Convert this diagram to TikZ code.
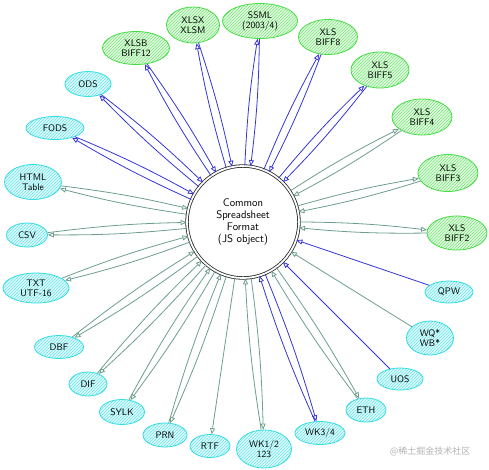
\documentclass[tikz,border=0pt]{standalone}
\usepackage{fontspec}
\newfontfamily\cjkfont{Noto Sans CJK SC}
\usetikzlibrary{shapes.geometric,patterns,arrows.meta}
\definecolor{xlgreen}{HTML}{44DD44}
\definecolor{oldcyan}{HTML}{33DDE6}
\definecolor{wbblue}{HTML}{3535D8}
\definecolor{wsgreen}{HTML}{6C9E8C}
\tikzset{
  fmt/.style={ellipse,draw,thick,inner sep=0pt,align=center,
    font=\sffamily\fontsize{9.5}{10}\selectfont},
  sz/.style 2 args={minimum width=#1pt,minimum height=#2pt},
  xl/.style={fmt,draw=xlgreen,preaction={fill=xlgreen!14},
    pattern=north east lines,pattern color=xlgreen!75},
  old/.style={fmt,draw=oldcyan,preaction={fill=oldcyan!14},
    pattern=north east lines,pattern color=oldcyan!75},
  hub/.style={circle,draw=black!85,double,double distance=1.8pt,thick,
    minimum size=112pt,inner sep=0pt,align=center,
    font=\sffamily\fontsize{11}{12}\selectfont},
  wbedge/.style={-{Triangle[open,length=6pt,width=5pt]},wbblue,line width=0.8pt},
  wsedge/.style={-{Triangle[open,length=6pt,width=5pt]},wsgreen,line width=0.8pt}
}

\begin{document}
\begin{tikzpicture}[x=1pt,y=-1pt]
\useasboundingbox (0,0) rectangle (489,469);

% Common spreadsheet format in the middle
\node[hub] (csf) at (243,222) {Common\\Spreadsheet\\Format\\(JS object)};

% Excel family
\node[xl,sz={67}{33}] (xlsb) at (136,48) {XLSB\\BIFF12};
\node[xl,sz={53}{36}] (xlsx) at (193,25) {XLSX\\XLSM};
\node[xl,sz={75}{35}] (xml)  at (260,21) {SSML\\(2003/4)};
\node[xl,sz={59}{35}] (xls8) at (328,37) {XLS\\BIFF8};
\node[xl,sz={58}{36}] (xls5) at (380,70) {XLS\\BIFF5};
\node[xl,sz={60}{36}] (xls4) at (422,117) {XLS\\BIFF4};
\node[xl,sz={60}{37}] (xls3) at (448,173) {XLS\\BIFF3};
\node[xl,sz={60}{34}] (xls2) at (457,233) {XLS\\BIFF2};

% Other formats
\node[old,sz={48}{22}] (qpw)  at (449,292) {QPW};
\node[old,sz={47}{34}] (wqb)  at (430,338) {WQ*\\WB*};
\node[old,sz={46}{22}] (uos)  at (400,379) {UOS};
\node[old,sz={40}{24}] (eth)  at (366,410) {ETH};
\node[old,sz={50}{23}] (wk3)  at (320,433) {WK3/4};
\node[old,sz={55}{38}] (wk1)  at (264,449) {WK1/2\\123};
\node[old,sz={40}{23}] (rtf)  at (210,446) {RTF};
\node[old,sz={44}{24}] (prn)  at (165,435) {PRN};
\node[old,sz={45}{25}] (slk)  at (122,412) {SYLK};
\node[old,sz={38}{24}] (dif)  at (88,384) {DIF};
\node[old,sz={49}{23}] (dbf)  at (59,347) {DBF};
\node[old,sz={66}{30}] (txt)  at (36,288) {TXT\\UTF-16};
\node[old,sz={41}{24}] (csv)  at (27,235) {CSV};
\node[old,sz={57}{35}] (html) at (33,182) {HTML\\Table};
\node[old,sz={58}{23}] (fods) at (55,128) {FODS};
\node[old,sz={46}{25}] (ods)  at (88,84) {ODS};

% Workbook formats, read and write
\foreach \f in {xlsb,xlsx,xml,xls8,xls5,ods,fods,wk3}
{
  \draw[wbedge] (csf) to[bend left=3] (\f);
  \draw[wbedge] (\f) to[bend left=3] (csf);
}

% Worksheet formats, read and write
\foreach \f in {xls4,xls3,xls2,eth,wk1,prn,slk,dif,dbf,txt,csv,html}
{
  \draw[wsedge] (csf) to[bend left=3] (\f);
  \draw[wsedge] (\f) to[bend left=3] (csf);
}

% Read only / write only
\draw[wbedge] (qpw) -- (csf);
\draw[wbedge] (uos) -- (csf);
\draw[wsedge] (wqb) -- (csf);
\draw[wsedge] (csf) -- (rtf);

\node[text=black!30,font=\cjkfont\fontsize{9}{9}\selectfont] (mark) at (430,451) {@稀土掘金技术社区};

\end{tikzpicture}
\end{document}
